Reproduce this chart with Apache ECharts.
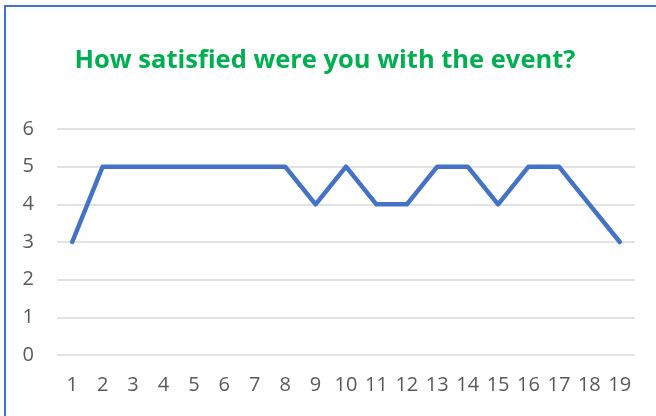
<!DOCTYPE html>
<html>
<head>
<meta charset="utf-8">
<script src="https://cdn.jsdelivr.net/npm/echarts@6/dist/echarts.min.js"></script>
<style>
html, body { margin: 0; padding: 0; background: #fff; overflow: hidden; }
#frame {
    position: absolute; left: 4px; top: 5px; width: 700px; height: 460px;
    border-left: 2px solid #4472C4; border-top: 2px solid #4472C4;
}
#container { position: absolute; left: 0; top: 0; width: 656px; height: 416px; }
</style>
</head>
<body>
<div id="frame"></div>
<div id="container"></div>
<script>
var categories = ['1','2','3','4','5','6','7','8','9','10','11','12','13','14','15','16','17','18','19'];
var satisfaction = [3, 5, 5, 5, 5, 5, 5, 5, 4, 5, 4, 4, 5, 5, 4, 5, 5, 4, 3];
var yTicks = { min: 0, max: 6, interval: 1 };

var myChart = echarts.init(document.getElementById('container'));
var option = {
    animation: false,
    title: {
        text: 'How satisfied were you with the event?',
        left: 320,
        textAlign: 'center',
        top: 43,
        textStyle: {
            color: '#00B050',
            fontWeight: 'bold',
            fontSize: 25.5,
            fontFamily: 'Open Sans'
        }
    },
    grid: {
        left: 57,
        right: 21,
        top: 129,
        bottom: 61
    },
    xAxis: {
        type: 'category',
        boundaryGap: true,
        data: categories,
        axisLine: { show: false },
        axisTick: { show: false },
        axisLabel: {
            color: '#595959',
            fontSize: 20,
            fontFamily: 'Open Sans',
            margin: 20,
            interval: 0
        }
    },
    yAxis: {
        type: 'value',
        min: yTicks.min,
        max: yTicks.max,
        interval: yTicks.interval,
        axisLine: { show: false },
        axisTick: { show: false },
        axisLabel: {
            color: '#595959',
            fontSize: 20,
            fontFamily: 'Open Sans',
            margin: 23,
            align: 'right'
        },
        splitLine: { lineStyle: { color: '#D9D9D9', width: 1.5 } }
    },
    series: [{
        type: 'line',
        data: satisfaction,
        showSymbol: false,
        lineStyle: { color: '#4472C4', width: 4.5, cap: 'round', join: 'round' }
    }]
};
myChart.setOption(option);
</script>
</body>
</html>
